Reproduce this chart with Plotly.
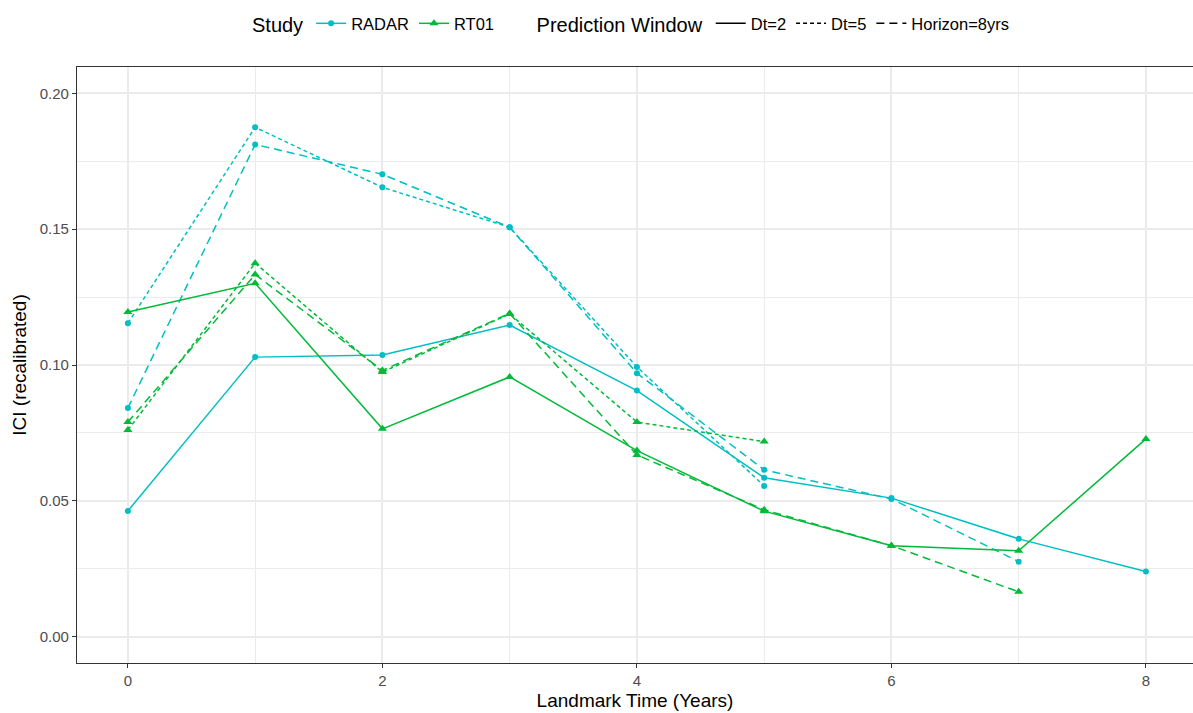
import plotly.graph_objects as go

# ---- data ----
landmark = [0, 1, 2, 3, 4, 5, 6, 7, 8]

radar_dt2 = [0.0463, 0.1029, 0.1037, 0.1147, 0.0906, 0.0585, 0.0510, 0.0360, 0.0240]
radar_dt5 = [0.1154, 0.1875, 0.1654, 0.1507, 0.0993, 0.0555]
radar_h8 = [0.0842, 0.1812, 0.1702, 0.1507, 0.0970, 0.0614, 0.0507, 0.0276]

rt01_dt2 = [0.1195, 0.1301, 0.0765, 0.0956, 0.0685, 0.0462, 0.0335, 0.0316, 0.0728]
rt01_dt5 = [0.0761, 0.1375, 0.0974, 0.1188, 0.0790, 0.0718]
rt01_h8 = [0.0790, 0.1333, 0.0980, 0.1190, 0.0669, 0.0467, 0.0335, 0.0165]

studies = ["RADAR", "RT01"]
windows = ["Dt=2", "Dt=5", "Horizon=8yrs"]

colors = {"RADAR": "#00BFC4", "RT01": "#00BA38"}
symbols = {"RADAR": "circle", "RT01": "triangle-up"}
msize = {"RADAR": 6, "RT01": 8}
dashes = {"Dt=2": "solid", "Dt=5": "4px,3px", "Horizon=8yrs": "8px,5px"}

series = {
    ("RADAR", "Dt=2"): radar_dt2,
    ("RADAR", "Dt=5"): radar_dt5,
    ("RADAR", "Horizon=8yrs"): radar_h8,
    ("RT01", "Dt=2"): rt01_dt2,
    ("RT01", "Dt=5"): rt01_dt5,
    ("RT01", "Horizon=8yrs"): rt01_h8,
}

fig = go.Figure()
for (s, w), vals in series.items():
    fig.add_trace(go.Scatter(
        x=landmark[:len(vals)], y=vals, mode="lines+markers",
        line=dict(color=colors[s], width=1.5, dash=dashes[w]),
        marker=dict(color=colors[s], symbol=symbols[s], size=msize[s]),
        showlegend=False, name=f"{s} {w}",
    ))

# legend entries: Study
for s in studies:
    fig.add_trace(go.Scatter(
        x=[None], y=[None], mode="lines+markers", name=s,
        line=dict(color=colors[s], width=1.5),
        marker=dict(color=colors[s], symbol=symbols[s], size=msize[s]),
        legend="legend",
    ))
# legend entries: Prediction window
for w in windows:
    fig.add_trace(go.Scatter(
        x=[None], y=[None], mode="lines", name=w,
        line=dict(color="black", width=1.5, dash=dashes[w]),
        legend="legend2",
    ))

font_family = "Liberation Sans, Arial, sans-serif"

fig.update_layout(
    width=1193, height=713,
    margin=dict(l=77, r=0, t=67, b=50),
    paper_bgcolor="white", plot_bgcolor="white",
    font=dict(family=font_family, color="black"),
    legend=dict(
        title=dict(text="Study", font=dict(size=20)),
        orientation="h", x=0.155, y=1.072, xanchor="left", yanchor="middle",
        font=dict(size=16.5), bgcolor="rgba(0,0,0,0)", itemwidth=30,
    ),
    legend2=dict(
        title=dict(text="Prediction Window", font=dict(size=20)),
        orientation="h", x=0.41, y=1.072, xanchor="left", yanchor="middle",
        font=dict(size=16.5), bgcolor="rgba(0,0,0,0)", itemwidth=30,
    ),
    xaxis=dict(
        range=[-0.4, 8.37], tickmode="array", tickvals=[0, 2, 4, 6, 8],
        showgrid=True, gridcolor="#EBEBEB", gridwidth=1.6,
        minor=dict(tickvals=[1, 3, 5, 7], showgrid=True, gridcolor="#EBEBEB", gridwidth=1),
        showline=True, linecolor="#333333", linewidth=1.2, mirror=True,
        ticks="outside", ticklen=4, tickcolor="#333333",
        tickfont=dict(size=15, color="#4D4D4D"),
        title=dict(text="Landmark Time (Years)", font=dict(size=19), standoff=5),
        zeroline=False,
    ),
    yaxis=dict(
        range=[-0.0097, 0.2097], tickmode="array",
        tickvals=[0, 0.05, 0.10, 0.15, 0.20],
        ticktext=["0.00", "0.05", "0.10", "0.15", "0.20"],
        showgrid=True, gridcolor="#EBEBEB", gridwidth=1.6,
        minor=dict(tickvals=[0.025, 0.075, 0.125, 0.175], showgrid=True, gridcolor="#EBEBEB", gridwidth=1),
        showline=True, linecolor="#333333", linewidth=1.2, mirror=False,
        ticks="outside", ticklen=4, tickcolor="#333333",
        tickfont=dict(size=15, color="#4D4D4D"),
        title=dict(text="ICI (recalibrated)", font=dict(size=19), standoff=8),
        zeroline=False,
    ),
)

fig.write_html("out.html")
